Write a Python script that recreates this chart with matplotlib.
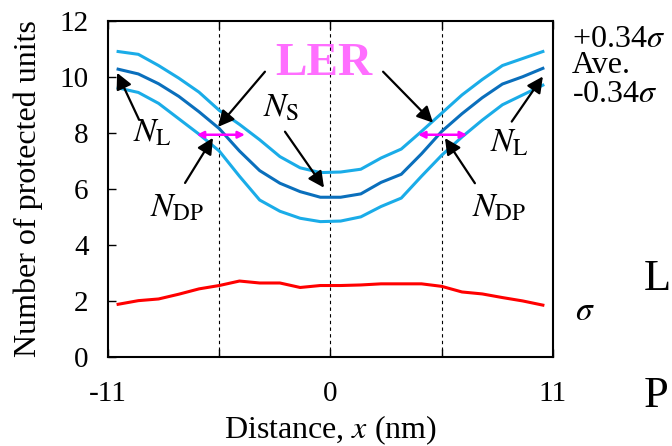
import numpy as np
import matplotlib
matplotlib.use('Agg')
import matplotlib.pyplot as plt

plt.rcParams['font.family'] = ['Liberation Serif', 'DejaVu Serif']
plt.rcParams['mathtext.fontset'] = 'stix'

# positions along the line (nm)
x = [-10.5, -9.5, -8.5, -7.5, -6.5, -5.5, -4.5, -3.5, -2.5, -1.5, -0.5,
     0.5, 1.5, 2.5, 3.5, 4.5, 5.5, 6.5, 7.5, 8.5, 9.5, 10.5]

# +0.34 sigma
n_plus = [10.9, 10.8, 10.4, 9.95, 9.45, 8.8, 8.3, 7.75, 7.15, 6.75, 6.58,
          6.6, 6.7, 7.1, 7.42, 8.05, 8.7, 9.35, 9.9, 10.4, 10.65, 10.9]
# promedio
n_ave = [10.27, 10.1, 9.75, 9.3, 8.75, 8.15, 7.35, 6.65, 6.2, 5.9, 5.7,
         5.7, 5.82, 6.23, 6.52, 7.25, 8.05, 8.68, 9.25, 9.74, 10.0, 10.3]
# -0.34 sigma
n_minus = [9.6, 9.44, 9.05, 8.5, 7.95, 7.35, 6.45, 5.6, 5.2, 4.95, 4.83,
           4.85, 5.0, 5.37, 5.67, 6.45, 7.2, 7.85, 8.45, 9.0, 9.35, 9.7]
# sigma
sigma = [1.88, 2.01, 2.07, 2.24, 2.43, 2.55, 2.71, 2.64, 2.64, 2.48, 2.55,
         2.55, 2.57, 2.61, 2.61, 2.61, 2.52, 2.32, 2.25, 2.12, 2.0, 1.85]

xticks = [-11, -5.5, 0, 5.5, 11]
xlabels = ['-11', '', '0', '', '11']
yticks = [0, 2, 4, 6, 8, 10, 12]

fig = plt.figure(figsize=(6.72, 4.46), dpi=100)
ax = fig.add_axes([0.1607, 0.1996, 0.6622, 0.754])

for xv in [-5.5, 0, 5.5]:
    ax.axvline(xv, color='k', lw=0.8, ls=(0, (3, 3)), zorder=1)

ax.plot(x, n_plus, color='#1AACE8', lw=2.2)
ax.plot(x, n_ave, color='#0A6FBC', lw=2.2)
ax.plot(x, n_minus, color='#1AACE8', lw=2.2)
ax.plot(x, sigma, color='#FF0000', lw=2.2)

ax.set_xlim(-11, 11)
ax.set_ylim(0, 12)
ax.set_xticks(xticks)
ax.set_xticklabels(xlabels)
ax.set_yticks(yticks)
ax.tick_params(axis='x', direction='in', top=True, length=6, width=1, pad=17, labelsize=21)
ax.tick_params(axis='y', direction='in', length=6, width=1, pad=14, labelsize=21)
for s in ax.spines.values():
    s.set_linewidth(1.5)

ax.set_xlabel('Distance, $x$ (nm)', fontsize=23, labelpad=5)
ax.set_ylabel('Number of protected units', fontsize=23, labelpad=12)

# flechas negras
arr = dict(arrowstyle='-|>', mutation_scale=24, lw=1.6, color='k', shrinkA=0, shrinkB=0)
ax.annotate('', xy=(-5.56, 8.21), xytext=(-3.24, 10.18), arrowprops=arr)
ax.annotate('', xy=(5.07, 8.36), xytext=(2.6, 10.18), arrowprops=arr)
ax.annotate('', xy=(-10.55, 10.14), xytext=(-9.46, 8.46), arrowprops=arr)
ax.annotate('', xy=(10.5, 10.01), xytext=(8.96, 8.4), arrowprops=arr)
ax.annotate('', xy=(-0.32, 6.04), xytext=(-2.25, 8.04), arrowprops=arr)
ax.annotate('', xy=(-5.81, 7.82), xytext=(-7.19, 6.21), arrowprops=arr)
ax.annotate('', xy=(5.66, 7.81), xytext=(7.14, 6.2), arrowprops=arr)

# flechas magenta
mag = dict(arrowstyle='<|-|>', mutation_scale=10, lw=1.8, color='#FF00FF', shrinkA=0, shrinkB=0)
ax.annotate('', xy=(-4.23, 7.93), xytext=(-6.61, 7.93), arrowprops=mag)
ax.annotate('', xy=(6.75, 7.93), xytext=(4.33, 7.93), arrowprops=mag)

ax.text(-0.35, 10.07, 'LER', fontsize=34, fontweight='bold', color='#FF6EFF',
        ha='center', va='baseline')
ax.text(-9.76, 7.68, r'$N_{\mathrm{L}}$', fontsize=24, ha='left', va='baseline')
ax.text(7.88, 7.32, r'$N_{\mathrm{L}}$', fontsize=24, ha='left', va='baseline')
ax.text(-3.34, 8.57, r'$N_{\mathrm{S}}$', fontsize=24, ha='left', va='baseline')
ax.text(-8.92, 5.0, r'$N_{\mathrm{DP}}$', fontsize=24, ha='left', va='baseline')
ax.text(6.99, 5.0, r'$N_{\mathrm{DP}}$', fontsize=24, ha='left', va='baseline')

fig.text(0.851, 0.895, r'+0.34$\sigma$', fontsize=23, va='baseline')
fig.text(0.851, 0.836, 'Ave.', fontsize=23, va='baseline')
fig.text(0.851, 0.771, r'-0.34$\sigma$', fontsize=23, va='baseline')
fig.text(0.856, 0.2825, r'$\sigma$', fontsize=24, va='baseline')
fig.text(0.958, 0.35, 'L', fontsize=32, va='baseline')
fig.text(0.958, 0.0874, 'P', fontsize=32, va='baseline')

fig.savefig('out.png', dpi=100)
